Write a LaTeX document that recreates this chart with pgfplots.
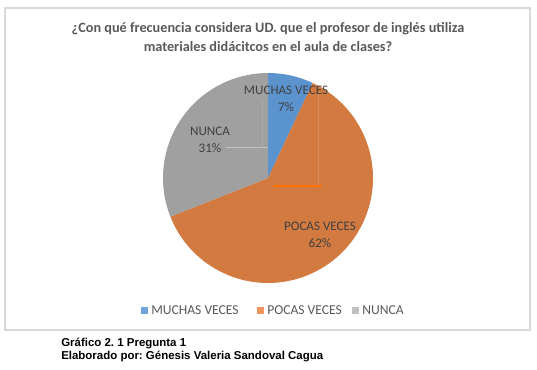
\documentclass[border=0pt]{standalone}
\usepackage{pgfplots}
\usepackage{pgfplotstable}
\pgfplotsset{compat=1.18}
\usepackage{fontspec}
\setmainfont{Carlito}
\newfontfamily\captionfont{Liberation Sans}
\frenchspacing

\definecolor{pieblue}{RGB}{91,147,207}
\definecolor{pieorange}{RGB}{210,122,64}
\definecolor{piegray}{RGB}{160,160,160}
\definecolor{legblue}{RGB}{112,165,220}
\definecolor{legorange}{RGB}{240,150,90}
\definecolor{leggray}{RGB}{192,192,192}
\definecolor{txtgray}{RGB}{89,89,89}
\definecolor{lblgray}{RGB}{64,64,64}
\definecolor{framegray}{RGB}{217,217,217}

% survey answers, in percent
\pgfplotstableread{
label value
MUCHAS 7
POCAS 62
NUNCA 31
}\piedata

\pgfplotstablegetelem{0}{value}\of\piedata \let\vA\pgfplotsretval
\pgfplotstablegetelem{1}{value}\of\piedata \let\vB\pgfplotsretval
\pgfplotstablegetelem{2}{value}\of\piedata \let\vC\pgfplotsretval
% wedges run clockwise from 12 o'clock
\pgfmathsetmacro{\aA}{90}
\pgfmathsetmacro{\aB}{\aA-3.6*\vA}
\pgfmathsetmacro{\aC}{\aB-3.6*\vB}
\pgfmathsetmacro{\aD}{\aC-3.6*\vC}

\begin{document}
\begin{tikzpicture}
\begin{axis}[
  hide axis, scale only axis, clip=false,
  width=402.75pt, height=277.5pt,
  xmin=0, xmax=537, ymin=0, ymax=370,
]
% chart frame
\draw[framegray, line width=0.9pt] (axis cs:5,40) rectangle (axis cs:530,362);

% pie, centre (268,192), radius 105 units = 78.75pt
\fill[pieblue]   (axis cs:268,192) -- ++(\aA:78.75pt) arc[start angle=\aA, end angle=\aB, radius=78.75pt] -- cycle;
\fill[pieorange] (axis cs:268,192) -- ++(\aB:78.75pt) arc[start angle=\aB, end angle=\aC, radius=78.75pt] -- cycle;
\fill[piegray]   (axis cs:268,192) -- ++(\aC:78.75pt) arc[start angle=\aC, end angle=\aD, radius=78.75pt] -- cycle;

% leader lines
\draw[white, opacity=0.35, line width=0.6pt] (axis cs:226,223) -- (axis cs:268,223);
\draw[white, opacity=0.12, line width=0.6pt] (axis cs:262,270) -- (axis cs:262,223);
\draw[white, opacity=0.15, line width=0.6pt] (axis cs:318,278) -- (axis cs:318,184);
\draw[orange!90!red, line width=2.2pt] (axis cs:273,184) -- (axis cs:322,184);

% data labels
\node[lblgray, font=\fontsize{9.8}{11}\selectfont, align=center] at (axis cs:286,271)
  {MUCHAS VECES\\[1.5pt]\vA\%};
\node[lblgray, font=\fontsize{9.8}{11}\selectfont, align=center] at (axis cs:320,135.5)
  {POCAS VECES\\[1.5pt]\vB\%};
\node[lblgray, font=\fontsize{9.8}{11}\selectfont, align=center] at (axis cs:210,230)
  {NUNCA\\[1.5pt]\vC\%};

% title
\node[txtgray, font=\bfseries\fontsize{10.7}{14}\selectfont, align=center] at (axis cs:268,333)
  {¿Con qué frecuencia considera UD. que el profesor de inglés utiliza\\materiales didácitcos en el aula de clases?};

% legend
\fill[legblue]   (axis cs:141,56) rectangle (axis cs:148,63);
\node[txtgray, font=\fontsize{10.2}{11}\selectfont, anchor=west, inner sep=0pt] at (axis cs:151,59.5) {MUCHAS VECES};
\fill[legorange] (axis cs:257,56) rectangle (axis cs:264,63);
\node[txtgray, font=\fontsize{10.2}{11}\selectfont, anchor=west, inner sep=0pt] at (axis cs:267,59.5) {POCAS VECES};
\fill[leggray]   (axis cs:352,56) rectangle (axis cs:359,63);
\node[txtgray, font=\fontsize{10.2}{11}\selectfont, anchor=west, inner sep=0pt] at (axis cs:362,59.5) {NUNCA};

% caption below the chart
\node[font=\captionfont\bfseries\fontsize{8.6}{9.8}\selectfont, anchor=north west, align=left, inner sep=0pt] at (axis cs:61,32.5)
  {Gráfico 2. 1 Pregunta 1\\Elaborado por: Génesis Valeria Sandoval Cagua};
\end{axis}
\pgfresetboundingbox
\useasboundingbox (0,0) rectangle (402.75pt,277.5pt);
\end{tikzpicture}
\end{document}
